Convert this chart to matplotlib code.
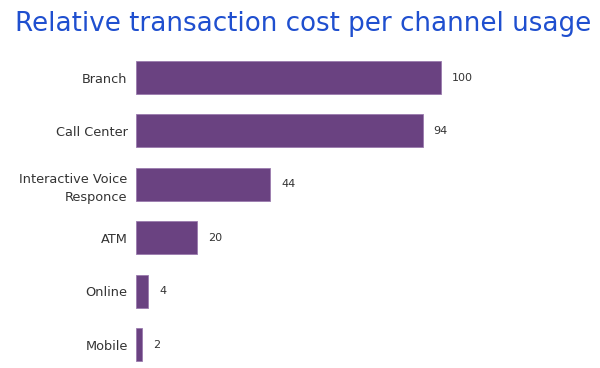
import matplotlib
matplotlib.use("Agg")
from matplotlib import pyplot as plt

channels = ["Branch", "Call Center", "Interactive Voice\nResponce", "ATM", "Online", "Mobile"]
costs = [100, 94, 44, 20, 4, 2]

plt.rcParams['font.family'] = ['DejaVu Sans']

fig = plt.figure(figsize=(6, 3.68), dpi=100)
ax = fig.add_axes([136 / 600, 0.0, 457.5 / 600, 1 - 50.8 / 368])

pos = list(range(len(channels)))
ax.barh(pos, costs, height=0.62, color="#6a4281", edgecolor="#9a7aae", linewidth=0.6)

ax.set_xlim(0, 150)
ax.set_ylim(5.44, -0.5)
ax.set_yticks(pos)
ax.set_yticklabels(channels, fontsize=9.3, color="#333333", linespacing=1.5)
ax.tick_params(axis="y", length=0, pad=6)
ax.set_xticks([])
for s in ax.spines.values():
    s.set_visible(False)

for p, v in zip(pos, costs):
    ax.annotate(str(v), (v, p), xytext=(11, 0), textcoords="offset pixels",
                va="center", ha="left", fontsize=8, color="#333333")

fig.text(0.025, 0.935, "Relative transaction cost per channel usage", fontsize=18.8,
         color="#1f4fcf", ha="left", va="center")

fig.savefig("out.png", dpi=100)
